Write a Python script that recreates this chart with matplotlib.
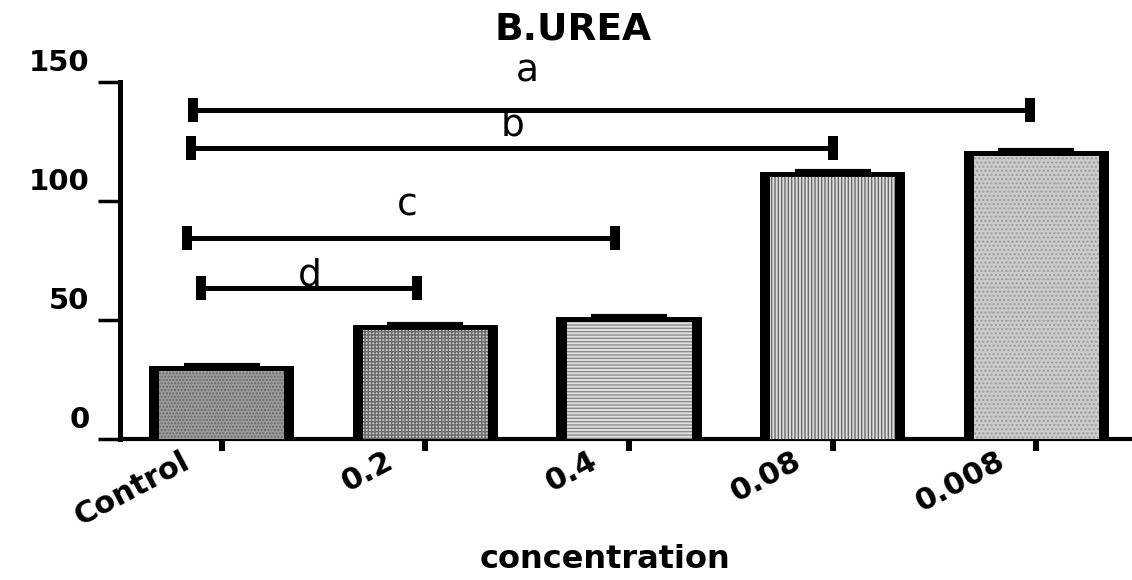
import matplotlib
matplotlib.use('Agg')
import matplotlib.pyplot as plt
import matplotlib.transforms as mtransforms
import numpy as np

# bar data
groups = ['Control', '0.2', '0.4', '0.08', '0.008']
means = [29.7, 46.9, 50.3, 111.2, 120.0]
sem = [1.5, 1.5, 1.4, 1.4, 1.4]

# significance brackets
sig_labels = ['a', 'b', 'c', 'd']
sig_start = [-0.14, -0.15, -0.17, -0.10]
sig_end = [3.97, 3.0, 1.93, 0.96]
sig_y = [138.2, 122.3, 84.5, 63.4]
sig_text_x = [1.5, 1.43, 0.91, 0.43]
sig_text_y = [150, 127.7, 94, 64.7]

fills = ['#9c9c9c', '#c8c8c8', '#e0e0e0', '#dcdcdc', '#cccccc']
hatch_cols = ['#666666', '#6a6a6a', '#8a8a8a', '#6a6a6a', '#999999']
hatches = ['.....', '+++++', '-----', '|||||', '....']

plt.rcParams['font.family'] = 'DejaVu Sans'

fig = plt.figure(figsize=(11.32, 5.8), dpi=100)
ax = fig.add_axes([120/1132, 141/580, 1012/1132, 357/580])

x = np.arange(len(groups))
edge_h = 2.1  # thickness of bar top edge in data units

outer = ax.bar(x, [m + edge_h/2 for m in means], width=0.713, color='black', zorder=2)
inner = ax.bar(x, [m - edge_h/2 for m in means], width=0.614, zorder=3, linewidth=0)
for p, fc, hc, h in zip(inner, fills, hatch_cols, hatches):
    p.set_facecolor(fc)
    p.set_edgecolor(hc)
    p.set_hatch(h)
    p.set_linewidth(0)

ax.errorbar(x, means, yerr=[[0]*len(sem), sem], fmt='none', ecolor='black',
            elinewidth=2, capsize=27.7, capthick=3, zorder=1.5)

for lab, s, e, y, tx, ty in zip(sig_labels, sig_start, sig_end, sig_y, sig_text_x, sig_text_y):
    ax.plot([s, e], [y, y], color='black', lw=3.6, solid_capstyle='butt', clip_on=False)
    for xe in (s, e):
        ax.plot([xe, xe], [y - 5.2, y + 5.2], color='black', lw=7.2,
                solid_capstyle='butt', clip_on=False)
    ax.text(tx, ty, lab, fontsize=27, ha='center', va='baseline')

ax.set_xlim(-0.5, 4.47)
ax.set_ylim(0, 150)
ax.set_yticks([0, 50, 100, 150])
ax.set_xticks(x)
ax.set_xticklabels(groups)

for s in ['top', 'right']:
    ax.spines[s].set_visible(False)
ax.spines['left'].set_linewidth(3.6)
ax.spines['bottom'].set_linewidth(3.0)

ax.tick_params(axis='y', direction='out', length=16, width=2.5, pad=6,
               labelsize=21)
ax.tick_params(axis='x', direction='out', length=8.6, width=4.3, pad=-3,
               labelsize=22)
for t in ax.get_yticklabels():
    t.set_fontweight('bold')
for t in ax.get_xticklabels():
    t.set_fontweight('bold')
    t.set_rotation(28)
    t.set_ha('right')
    t.set_va('top')

up = mtransforms.ScaledTranslation(0, 22/100, fig.dpi_scale_trans)
for t in ax.get_yticklabels():
    t.set_transform(t.get_transform() + up)
left = mtransforms.ScaledTranslation(-27/100, 0, fig.dpi_scale_trans)
for t in ax.get_xticklabels():
    t.set_transform(t.get_transform() + left)

ax.set_title('B.UREA', fontsize=27, fontweight='bold', x=0.448, y=1.118, pad=0)
ax.set_xlabel('concentration', fontsize=23, fontweight='bold')
ax.xaxis.set_label_coords(0.479, -0.295)

plt.savefig('out.png', dpi=100)
